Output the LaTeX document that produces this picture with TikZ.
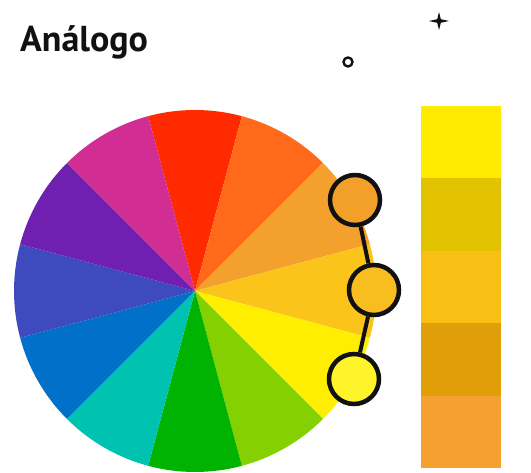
\documentclass[tikz,border=0pt]{standalone}
\usepackage{fontspec}
\setsansfont{PT Sans}
\usetikzlibrary{positioning,calc}
\definecolor{ink}{HTML}{111111}
\definecolor{cRed}{HTML}{FF2A00}
\definecolor{cRedOrange}{HTML}{FF6A1A}
\definecolor{cOrange}{HTML}{F4A02C}
\definecolor{cAmber}{HTML}{FAC41A}
\definecolor{cYellow}{HTML}{FFEE00}
\definecolor{cLime}{HTML}{84D000}
\definecolor{cGreen}{HTML}{00B300}
\definecolor{cTeal}{HTML}{00C2B0}
\definecolor{cBlue}{HTML}{0070C8}
\definecolor{cIndigo}{HTML}{3D4BBE}
\definecolor{cPurple}{HTML}{7020B0}
\definecolor{cMagenta}{HTML}{D12D92}
\definecolor{pickA}{HTML}{F2A02A}
\definecolor{pickB}{HTML}{F8BE20}
\definecolor{pickC}{HTML}{FFF32A}
\definecolor{swA}{HTML}{FFEB00}
\definecolor{swB}{HTML}{E3C300}
\definecolor{swC}{HTML}{F9BF14}
\definecolor{swD}{HTML}{E09E08}
\definecolor{swE}{HTML}{F5A030}
\tikzset{
  picker/.style={circle, draw=ink, line width=4.5pt, minimum size=50pt, inner sep=0pt},
  link/.style={draw=ink, line width=4pt},
  swatch/.style={rectangle, minimum width=80pt, minimum height=72.4pt, inner sep=0pt, outer sep=0pt}
}
\begin{document}
\begin{tikzpicture}[x=1pt,y=1pt]
    \useasboundingbox[fill=white] (0,0) rectangle (531,473);

    % title
    \node[font=\sffamily\bfseries\fontsize{36}{36}\selectfont, text=ink, anchor=base west, inner sep=0pt] (title) at (20,421) {Análogo};

    % colour wheel
    \coordinate (hub) at (195,182);
    \foreach \ang/\col in {90/cRed,60/cRedOrange,30/cOrange,0/cAmber,-30/cYellow,-60/cLime,
                           -90/cGreen,-120/cTeal,-150/cBlue,180/cIndigo,150/cPurple,120/cMagenta}{
      \fill[\col] (hub) -- ++(\ang-15:181) arc[start angle=\ang-15, end angle=\ang+15, radius=181] -- cycle;
    }

    % selected hues
    \node[picker, fill=pickA] (sel1) at (355,273) {};
    \node[picker, fill=pickB] (sel2) at (374,183) {};
    \node[picker, fill=pickC] (sel3) at (354,94) {};
    \draw[link] (sel1) -- (sel2);
    \draw[link] (sel2) -- (sel3);

    % palette
    \node[swatch, fill=swA, anchor=north west] (sw1) at (421,367) {};
    \node[swatch, fill=swB, below=0pt of sw1] (sw2) {};
    \node[swatch, fill=swC, below=0pt of sw2] (sw3) {};
    \node[swatch, fill=swD, below=0pt of sw3] (sw4) {};
    \node[swatch, fill=swE, below=0pt of sw4] (sw5) {};

    % decorations
    \node[circle, draw=ink, line width=2.4pt, minimum size=9pt, inner sep=0pt] (ring) at (348,411) {};
    \coordinate (spark) at (439,452);
    \fill[ink] ($(spark)+(0,9)$) -- ++(-1.8,-7.2) -- ++(-8.2,-1.8) -- ++(8.2,-1.8) -- ++(1.8,-7.2)
               -- ++(1.8,7.2) -- ++(8.2,1.8) -- ++(-8.2,1.8) -- cycle;
\end{tikzpicture}
\end{document}
